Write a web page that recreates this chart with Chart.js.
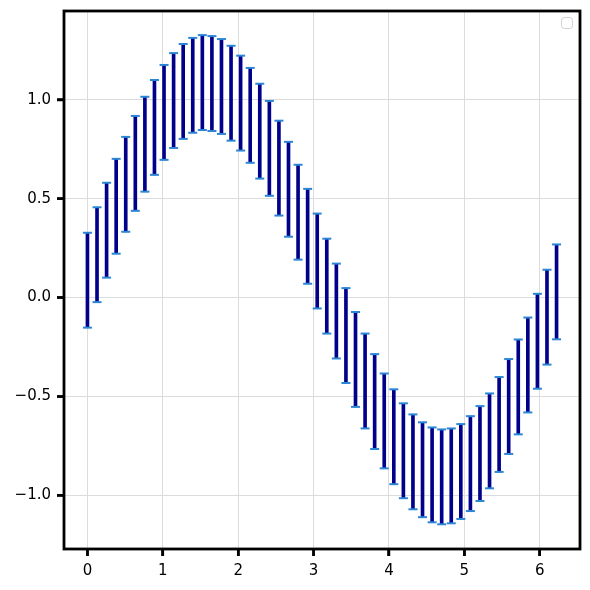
<!DOCTYPE html>
<html>
<head>
<meta charset="utf-8">
<script src="https://cdn.jsdelivr.net/npm/chart.js@4"></script>
<style>
  html, body { margin: 0; padding: 0; background: #fff; }
  #wrap { width: 590px; height: 590px; }
</style>
</head>
<body>
<div id="wrap"><canvas id="chart" width="590" height="590"></canvas></div>
<script>
// sample positions (step about 0.127, 50 points)
const xValues = [0, 0.127, 0.254, 0.381, 0.508, 0.635, 0.762, 0.889, 1.016, 1.143,
  1.270, 1.397, 1.524, 1.651, 1.778, 1.905, 2.032, 2.159, 2.286, 2.413,
  2.540, 2.667, 2.794, 2.921, 3.048, 3.175, 3.302, 3.429, 3.556, 3.683,
  3.810, 3.937, 4.064, 4.191, 4.318, 4.445, 4.572, 4.699, 4.826, 4.953,
  5.080, 5.207, 5.334, 5.461, 5.588, 5.715, 5.842, 5.969, 6.096, 6.223];

// centre of each error bar
const yValues = [0.088, 0.217, 0.341, 0.462, 0.573, 0.679, 0.776, 0.861, 0.937, 0.997,
  1.043, 1.074, 1.088, 1.083, 1.068, 1.034, 0.984, 0.922, 0.842, 0.755,
  0.655, 0.548, 0.432, 0.310, 0.185, 0.058, -0.068, -0.192, -0.313, -0.422,
  -0.526, -0.624, -0.704, -0.775, -0.831, -0.871, -0.897, -0.907, -0.902, -0.880,
  -0.840, -0.789, -0.725, -0.642, -0.551, -0.452, -0.341, -0.221, -0.099, 0.029];

const yErr = 0.24;

const xTicks = [0, 1, 2, 3, 4, 5, 6];
const yTicks = [-1.0, -0.5, 0.0, 0.5, 1.0];

const barData = xValues.map((x, i) => ({ x: x, y: [yValues[i] - yErr, yValues[i] + yErr] }));
const capData = [];
xValues.forEach((x, i) => {
  capData.push({ x: x, y: yValues[i] - yErr });
  capData.push({ x: x, y: yValues[i] + yErr });
});

const FONT = { family: 'DejaVu Sans', size: 15 };

// matplotlib style frame, tick marks and the empty legend box
const framePlugin = {
  id: 'frame',
  afterDraw(chart) {
    const { ctx, chartArea: a } = chart;
    const xs = chart.scales.x, ys = chart.scales.y;
    ctx.save();
    ctx.strokeStyle = '#000';
    ctx.lineWidth = 2.5;
    ctx.beginPath();
    xTicks.forEach(v => {
      const px = xs.getPixelForValue(v);
      ctx.moveTo(px, a.bottom);
      ctx.lineTo(px, a.bottom + 7);
    });
    yTicks.forEach(v => {
      const py = ys.getPixelForValue(v);
      ctx.moveTo(a.left, py);
      ctx.lineTo(a.left - 7, py);
    });
    ctx.stroke();

    ctx.lineWidth = 2.8;
    ctx.strokeRect(a.left, a.top, a.right - a.left, a.bottom - a.top);

    // empty legend
    ctx.strokeStyle = '#d0d0d0';
    ctx.fillStyle = 'rgba(255,255,255,0.8)';
    ctx.lineWidth = 1;
    ctx.beginPath();
    ctx.roundRect(a.right - 18.5, a.top + 6.5, 11, 11, 3);
    ctx.fill();
    ctx.stroke();
    ctx.restore();
  }
};

new Chart(document.getElementById('chart').getContext('2d'), {
  type: 'bar',
  data: {
    datasets: [
      {
        type: 'scatter',
        data: capData,
        order: 0,
        pointStyle: 'line',
        pointRadius: 4.5,
        pointBorderWidth: 2,
        borderColor: '#2b86d6',
        backgroundColor: '#2b86d6'
      },
      {
        type: 'bar',
        data: barData,
        order: 1,
        backgroundColor: '#00008b',
        borderWidth: 0,
        barThickness: 3,
        grouped: false
      }
    ]
  },
  options: {
    responsive: false,
    animation: false,
    layout: { padding: { top: 11, right: 10, left: 0, bottom: 0 } },
    plugins: {
      legend: { display: false },
      tooltip: { enabled: false }
    },
    scales: {
      x: {
        type: 'linear',
        offset: false,
        min: -0.311,
        max: 6.534,
        afterFit(scale) {
          scale.height = 41;
          scale.paddingLeft = 0;
          scale.paddingRight = 0;
        },
        afterBuildTicks(scale) { scale.ticks = xTicks.map(v => ({ value: v })); },
        ticks: {
          font: FONT,
          color: '#000',
          padding: 6,
          maxRotation: 0,
          callback: v => String(v)
        },
        grid: {
          offset: false,
          color: '#dcdcdc',
          lineWidth: 1,
          tickColor: '#000',
          tickWidth: 2.5,
          tickLength: 7
        },
        border: { display: false }
      },
      y: {
        type: 'linear',
        min: -1.272,
        max: 1.450,
        afterFit(scale) {
          scale.width = 64;
          scale.paddingTop = 0;
          scale.paddingBottom = 0;
        },
        afterBuildTicks(scale) { scale.ticks = yTicks.map(v => ({ value: v })); },
        ticks: {
          font: FONT,
          color: '#000',
          padding: 6,
          callback: v => v.toFixed(1).replace('-', '\u2212')
        },
        grid: {
          color: '#dcdcdc',
          lineWidth: 1,
          tickColor: '#000',
          tickWidth: 2.5,
          tickLength: 7
        },
        border: { display: false }
      }
    }
  },
  plugins: [framePlugin]
});
</script>
</body>
</html>
